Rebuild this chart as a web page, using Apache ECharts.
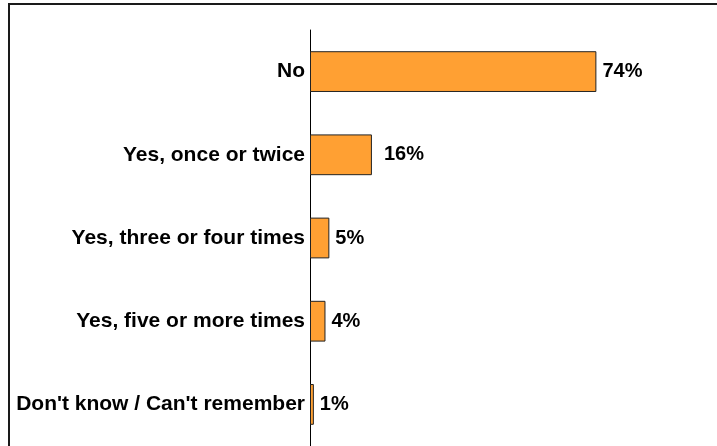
<!DOCTYPE html>
<html>
<head>
<meta charset="utf-8">
<script src="https://cdn.jsdelivr.net/npm/echarts@6/dist/echarts.min.js"></script>
<style>
  html, body { margin: 0; padding: 0; background: #fff; }
  #chart { width: 717px; height: 446px; }
</style>
</head>
<body>
<div id="chart"></div>
<script>
// answers, top to bottom
const categories = ['No', 'Yes, once or twice', 'Yes, three or four times', 'Yes, five or more times', "Don't know / Can't remember"];
const values = [74, 16, 5, 4, 1];

const chart = echarts.init(document.getElementById('chart'));
chart.setOption({
  animation: false,
  backgroundColor: '#fff',
  graphic: [{
    type: 'rect',
    shape: { x: 9, y: 4, width: 800, height: 600 },
    style: { fill: 'none', stroke: '#1a1a1a', lineWidth: 2 },
    silent: true
  }],
  grid: { left: 310, top: 30, width: 387, bottom: 0 },
  xAxis: {
    type: 'value', min: 0, max: 100, show: false
  },
  yAxis: {
    type: 'category',
    inverse: true,
    data: categories,
    axisLine: { lineStyle: { color: '#000', width: 1 } },
    axisTick: { show: false },
    axisLabel: {
      color: '#000', fontFamily: 'Liberation Sans, Arial, sans-serif',
      fontWeight: 'bold', fontSize: 21, margin: 5
    }
  },
  series: [{
    type: 'bar',
    // the 16% label sits a bit further out in the original
    data: values.map((v, i) => i === 1 ? { value: v, label: { distance: 12 } } : v),
    barWidth: '49%',
    itemStyle: { color: '#FFA033', borderColor: '#222', borderWidth: 1 },
    label: {
      show: true, position: 'right', distance: 6,
      formatter: '{c}%',
      color: '#000', fontFamily: 'Liberation Sans, Arial, sans-serif',
      fontWeight: 'bold', fontSize: 20
    }
  }]
});
</script>
</body>
</html>
